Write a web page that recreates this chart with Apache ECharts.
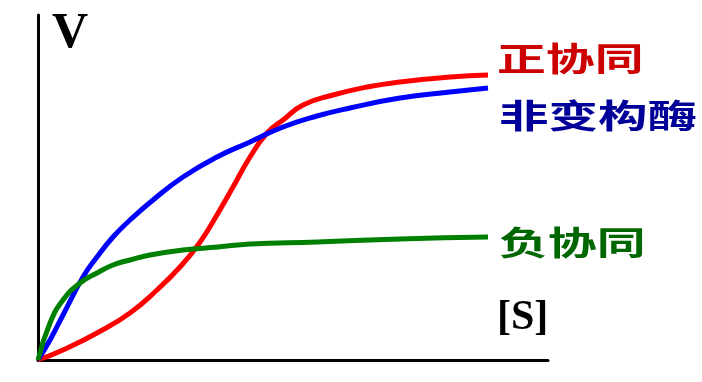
<!DOCTYPE html>
<html>
<head>
<meta charset="utf-8">
<script src="https://cdn.jsdelivr.net/npm/echarts@6/dist/echarts.min.js"></script>
<style>html,body{margin:0;padding:0;background:#fff;}#c{width:702px;height:382px;}</style>
</head>
<body>
<div id="c"></div>
<script>
// [S] (x) and V (y) in arbitrary units
const positiveCoop = [[0,0],[25,10],[59,27],[92,47],[119,70],[142,93],[160,115],[176,140],[195,173],[212,203],[229,227],[245,240],[265,255],[295,265],[329,273],[362,278],[412,283],[450,285]];
const nonAllosteric = [[0,0],[12,20],[25,45],[45,83],[59,103],[75,123],[92,140],[115,160],[145,183],[179,203],[212,218],[245,233],[279,244],[312,252],[362,262],[412,268],[450,272]];
const negativeCoop = [[0,0],[12,37],[25,60],[42,77],[59,87],[75,95],[92,100],[112,105],[145,110],[180,113],[212,116],[279,118],[362,121],[450,123]];
const seriesNames = ['正协同','非变构酶','负协同'];
const axisNames = ['V','[S]'];

const chart = echarts.init(document.getElementById('c'));
const cjk = 'bold 33px "Noto Sans CJK SC"';
const common = {type: 'line', smooth: 0.5, showSymbol: false};
chart.setOption({
  animation: false,
  grid: {left: 38, top: 15, width: 510, height: 345},
  xAxis: {type: 'value', min: 0, max: 510, axisLine: {lineStyle: {color: '#000', width: 3}}, axisTick: {show: false}, axisLabel: {show: false}, splitLine: {show: false}},
  yAxis: {type: 'value', min: 0, max: 345, axisLine: {show: true, lineStyle: {color: '#000', width: 3}}, axisTick: {show: false}, axisLabel: {show: false}, splitLine: {show: false}},
  series: [
    Object.assign({name: seriesNames[0], data: positiveCoop, lineStyle: {color: '#ff0000', width: 5}}, common),
    Object.assign({name: seriesNames[1], data: nonAllosteric, lineStyle: {color: '#0000ff', width: 5}}, common),
    Object.assign({name: seriesNames[2], data: negativeCoop, lineStyle: {color: '#008000', width: 5}}, common)
  ],
  graphic: [
    {type: 'text', x: 52, y: 34, style: {text: axisNames[0], font: 'bold 50px "Liberation Serif"', fill: '#000', textAlign: 'left', textVerticalAlign: 'middle'}},
    {type: 'text', x: 497, y: 318, style: {text: axisNames[1], font: 'bold 42px "Liberation Serif"', fill: '#000', textAlign: 'left', textVerticalAlign: 'middle'}},
    {type: 'text', x: 497, y: 58, scaleX: 1.48, style: {text: seriesNames[0], font: cjk, fill: '#cc0000', textAlign: 'left', textVerticalAlign: 'middle'}},
    {type: 'text', x: 499, y: 115, scaleX: 1.5, style: {text: seriesNames[1], font: cjk, fill: '#000099', textAlign: 'left', textVerticalAlign: 'middle'}},
    {type: 'text', x: 499, y: 242, scaleX: 1.48, style: {text: seriesNames[2], font: cjk, fill: '#006600', textAlign: 'left', textVerticalAlign: 'middle'}}
  ]
});
</script>
</body>
</html>
